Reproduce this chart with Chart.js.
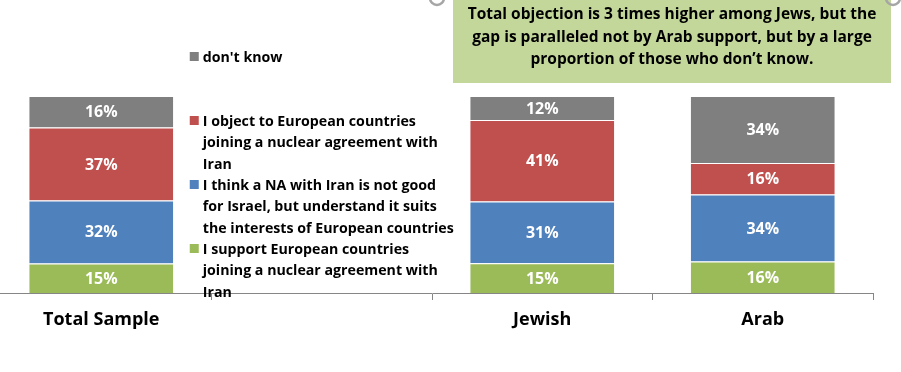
<!DOCTYPE html>
<html>
<head>
<meta charset="utf-8">
<script src="https://cdn.jsdelivr.net/npm/chart.js@4.4.1/dist/chart.umd.min.js"></script>
<style>
  html, body { margin: 0; padding: 0; background: #fff; overflow: hidden; }
  #wrap { position: absolute; left: -9px; top: 0; width: 910px; height: 372px; }
</style>
</head>
<body>
<div id="wrap"><canvas id="c" width="910" height="372"></canvas></div>
<script>
// ---- data ----
const categories = ['Total Sample', '', 'Jewish', 'Arab'];
const supportVals  = [15, null, 15, 16];
const notGoodVals  = [32, null, 31, 34];
const objectVals   = [37, null, 41, 16];
const dontKnowVals = [16, null, 12, 34];

const seriesLabels = [
  "I support European countries joining a nuclear agreement with Iran",
  "I think a NA with Iran is not good for Israel, but understand it suits the interests of European countries",
  "I object to European countries joining a nuclear agreement with Iran",
  "don't know"
];
// legend text as displayed (wrapped lines), top to bottom
const legendLines = [
  ["don't know"],
  ["I object to European countries", "joining a nuclear agreement with", "Iran"],
  ["I think a NA with Iran is not good", "for Israel, but understand it suits", "the interests of European countries"],
  ["I support European countries", "joining a nuclear agreement with", "Iran"]
];
const noteLines = [
  "Total objection is 3 times higher among Jews, but the",
  "gap is paralleled not by Arab support, but by a large",
  "proportion of those who don\u2019t know."
];

const colors = ['#9bbb59', '#4f81bd', '#c0504d', '#7f7f7f'];
const raw = [supportVals, notGoodVals, objectVals, dontKnowVals];

// 100% stacked: normalise each category to its total
const totals = categories.map((_, i) => raw.reduce((s, arr) => s + (arr[i] || 0), 0));
const norm = raw.map(arr => arr.map((v, i) => v == null ? null : v / totals[i] * 100));

const FONT = '"Open Sans", "Noto Sans", sans-serif';

const labelPlugin = {
  id: 'segLabels',
  afterDatasetsDraw(chart) {
    const ctx = chart.ctx;
    ctx.save();
    ctx.font = 'bold 16px ' + FONT;
    ctx.fillStyle = '#ffffff';
    ctx.textAlign = 'center';
    ctx.textBaseline = 'middle';
    chart.data.datasets.forEach((ds, di) => {
      const meta = chart.getDatasetMeta(di);
      meta.data.forEach((el, i) => {
        const v = raw[di][i];
        if (v == null) return;
        const y = (el.y + el.base) / 2;
        ctx.fillText(v + '%', el.x, y + 1);
      });
    });
    ctx.restore();
  }
};

const decoPlugin = {
  id: 'deco',
  afterDraw(chart) {
    const ctx = chart.ctx;
    const xs = chart.scales.x;
    ctx.save();
    // legend in the empty second slot
    const lx = xs.getPixelForValue(1) - 132;
    let y = 57;
    const lh = 21.33;
    const order = [3, 2, 1, 0];
    ctx.font = 'bold 14.2px ' + FONT;
    ctx.textBaseline = 'middle';
    ctx.textAlign = 'left';
    order.forEach((si, k) => {
      const top = y + k * 64;
      ctx.fillStyle = colors[si];
      ctx.fillRect(lx, top - 5, 9, 9);
      ctx.fillStyle = '#000';
      legendLines[k].forEach((ln, j) => ctx.fillText(ln, lx + 13, top + 1 + j * lh));
    });
    // annotation box
    ctx.fillStyle = '#c4d79b';
    ctx.fillRect(462, 0, 438, 83);
    ctx.fillStyle = '#000';
    ctx.font = 'bold 15.5px ' + FONT;
    ctx.textAlign = 'center';
    noteLines.forEach((ln, j) => ctx.fillText(ln, 681, 15 + j * 22.5));
    // selection handles
    ctx.strokeStyle = '#a6a6a6';
    ctx.lineWidth = 2.5;
    [446, 902].forEach(cx => { ctx.beginPath(); ctx.arc(cx, -2, 7, 0, Math.PI * 2); ctx.stroke(); });
    ctx.restore();
  }
};

new Chart(document.getElementById('c'), {
  type: 'bar',
  data: {
    labels: categories,
    datasets: norm.map((d, i) => ({
      label: seriesLabels[i],
      data: d,
      backgroundColor: colors[i],
      borderColor: '#ffffff',
      borderWidth: { top: 1, left: 0, right: 0, bottom: 0 },
      borderSkipped: false,
      barPercentage: 0.653,
      categoryPercentage: 1
    }))
  },
  options: {
    responsive: false,
    animation: false,
    devicePixelRatio: 1,
    layout: { padding: { left: 0, right: 28, top: 96, bottom: 0 } },
    plugins: { legend: { display: false }, tooltip: { enabled: false } },
    scales: {
      x: {
        stacked: true,
        grid: { display: true, drawOnChartArea: false, drawTicks: true, tickLength: 7, color: '#868686', offset: true },
        border: { display: true, color: '#868686', width: 1 },
        ticks: { color: '#000', font: { family: FONT, size: 18, weight: 'bold' }, padding: 9, maxRotation: 0 },
        afterFit(scale) { scale.height = 79; }
      },
      y: { stacked: true, display: false, min: 0, max: 100 }
    }
  },
  plugins: [labelPlugin, decoPlugin]
});
</script>
</body>
</html>
